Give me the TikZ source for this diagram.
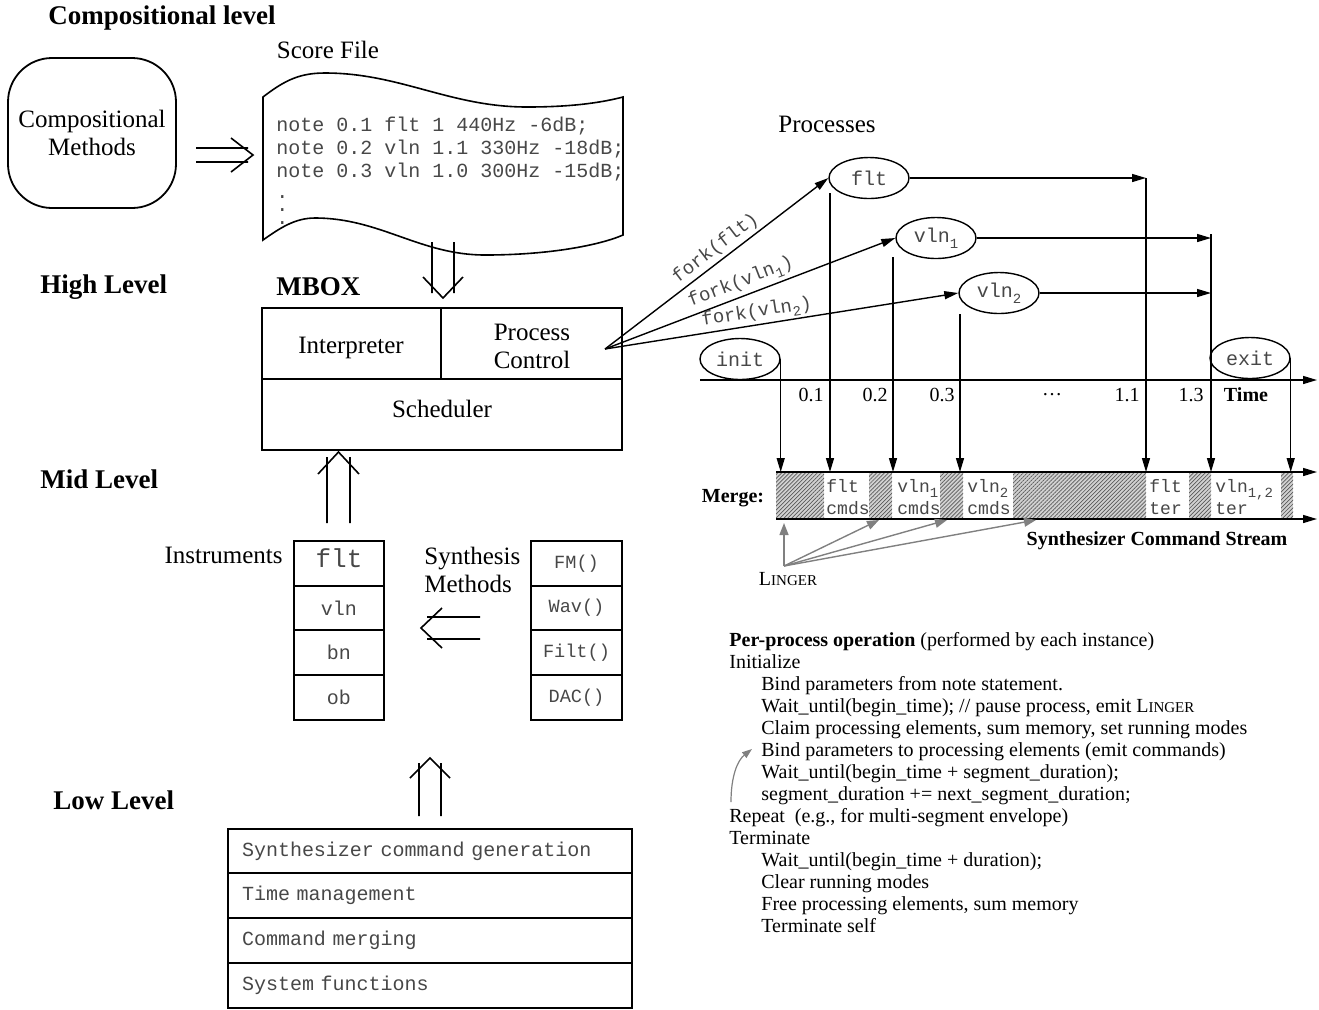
\documentclass[tikz,border=0pt]{standalone}
\usepackage{fontspec}
\setmainfont{Liberation Serif}
\setmonofont{Liberation Mono}
\usetikzlibrary{arrows.meta,shapes.geometric,patterns.meta}
\newcommand\mysub[1]{\raisebox{-0.55ex}{\fontsize{7}{7}\selectfont #1}}
\newcommand\lingersc{L{\fontsize{7.5}{9}\selectfont INGER}}
\begin{document}
\begin{tikzpicture}[x=0.5pt,y=-0.5pt,
  lbl/.style={font=\fontsize{12.5}{14}\selectfont, inner sep=0pt, align=center},
  hdr/.style={font=\fontsize{13.5}{15}\selectfont\bfseries, inner sep=0pt, anchor=west},
  sm/.style={font=\fontsize{10}{12}\selectfont, inner sep=0pt},
  smb/.style={font=\fontsize{10}{12}\selectfont\bfseries, inner sep=0pt},
  box/.style={draw, line width=0.9pt, inner sep=0pt},
  mono/.style={font=\fontsize{10}{11.5}\selectfont\ttfamily, text=black!72, inner sep=0pt},
  monos/.style={font=\fontsize{9.3}{11}\selectfont\ttfamily, text=black!72, inner sep=0pt},
  forkl/.style={font=\fontsize{9.5}{11}\selectfont\ttfamily, text=black!72, sloped, above, inner sep=1.5pt},
  mtxt/.style={font=\fontsize{9}{11}\selectfont\ttfamily, text=black!72, inner sep=0pt, anchor=north west, align=left},
  tri/.style={-{Triangle[length=7pt,width=4pt]}, line width=0.7pt},
  gtri/.style={-{Triangle[length=6pt,width=4.5pt]}, draw=black!50, line width=0.7pt},
  ell/.style={draw, ellipse, line width=0.7pt, inner sep=0pt, minimum width=40pt, minimum height=20.5pt, font=\fontsize{10}{11}\selectfont\ttfamily, text=black!72},
  dbl/.style={line width=0.8pt},
  hatchbox/.style={fill=black!18, postaction={pattern={Lines[angle=45,distance=1.4pt,line width=0.35pt]}, pattern color=black!65}},
]
\useasboundingbox (0,0) rectangle (1319,1009);

% level headers
\node[hdr] (hcomp) at (48,18) {Compositional level};
\node[hdr] (hhigh) at (40,287) {High Level};
\node[hdr] (hmbox) at (276,287) {MBOX};
\node[hdr] (hmid) at (40,479) {Mid Level};
\node[hdr] (hlow) at (53,800) {Low Level};

% compositional methods
\node[box, lbl, rounded corners=22pt, minimum width=84pt, minimum height=75pt] (cm) at (92,133) {Compositional\\Methods};

% score file
\node[lbl] (scorelbl) at (328,50) {Score File};
\draw[line width=0.8pt] (263,97) .. controls (285,80) and (300,73) .. (325,73)
  .. controls (400,73) and (450,107) .. (527,107)
  .. controls (570,107) and (600,103) .. (623,97) -- (623,235)
  .. controls (600,245) and (550,255) .. (485,255)
  .. controls (420,255) and (380,218) .. (315,218)
  .. controls (295,218) and (280,228) .. (263,240) -- cycle;
\node[mono, anchor=north west, align=left] (score) at (276,117) {note 0.1 flt 1 440Hz -6dB;\\note 0.2 vln 1.1 330Hz -18dB;\\note 0.3 vln 1.0 300Hz -15dB;};
\node[mono, anchor=north west, align=left, font=\fontsize{10}{6.5}\selectfont\ttfamily] (sdots) at (276,195) {.\\.\\.};

% double arrows
\draw[dbl] (196,148) -- (248,148) (196,162) -- (248,162) (231,138) -- (253,155) -- (231,172);
\draw[dbl] (432,242) -- (432,293) (454,242) -- (454,293) (423,277) -- (443,298) -- (463,277);
\draw[dbl] (327,523) -- (327,457) (350,523) -- (350,457) (318,474) -- (338.5,452) -- (359,474);
\draw[dbl] (480,617) -- (427,617) (480,639) -- (427,639) (442,608) -- (421,628) -- (442,648);
\draw[dbl] (419,816) -- (419,763) (441,816) -- (441,763) (410,778) -- (430,758) -- (450,778);

% MBOX
\node[box, minimum width=89.5pt, minimum height=35.5pt] (interp) at (351.5,343.5) {};
\node[box, minimum width=90.5pt, minimum height=35.5pt] (pctrl) at (531.5,343.5) {};
\node[box, minimum width=180pt, minimum height=35.5pt] (sched) at (442,414.5) {};
\node[lbl] (interpt) at (351,348) {Interpreter};
\node[lbl] (pctrlt) at (532,346) {Process\\Control};
\node[lbl] (schedt) at (442,409) {Scheduler};

% instruments
\node[lbl, anchor=east] (instl) at (283,555) {Instruments};
\node[box, minimum width=45pt, minimum height=22.5pt] (iflt) at (339,563.5) {};
\node[mono, font=\fontsize{13}{14}\selectfont\ttfamily] (ifltt) at (339,558) {flt};
\node[box, mono, minimum width=45pt, minimum height=22pt] (ivln) at (339,608) {vln};
\node[box, mono, minimum width=45pt, minimum height=22.5pt] (ibn) at (339,652.5) {bn};
\node[box, mono, minimum width=45pt, minimum height=22.5pt] (iob) at (339,697.5) {ob};

% synthesis methods
\node[lbl, align=left, anchor=west] (synl) at (424,570) {Synthesis\\Methods};
\node[box, monos, minimum width=45.5pt, minimum height=22.5pt] (sfm) at (576.5,563.5) {FM()};
\node[box, monos, minimum width=45.5pt, minimum height=22pt] (swav) at (576.5,608) {Wav()};
\node[box, monos, minimum width=45.5pt, minimum height=22.5pt] (sfilt) at (576.5,652.5) {Filt()};
\node[box, monos, minimum width=45.5pt, minimum height=22.5pt] (sdac) at (576.5,697.5) {DAC()};

% low level
\node[box, mono, text width=188pt, inner xsep=7pt, align=left, minimum height=22pt] (l1) at (430,851) {Synthesizer command generation};
\node[box, mono, text width=188pt, inner xsep=7pt, align=left, minimum height=22.5pt] (l2) at (430,895.5) {Time management};
\node[box, mono, text width=188pt, inner xsep=7pt, align=left, minimum height=22.5pt] (l3) at (430,940.5) {Command merging};
\node[box, mono, text width=188pt, inner xsep=7pt, align=left, minimum height=22.5pt] (l4) at (430,985.5) {System functions};

% processes
\node[lbl] (procl) at (827,124) {Processes};
\node[ell] (flt) at (869,178) {flt};
\node[ell] (vln1) at (936,238) {vln\mysub{1}};
\node[ell] (vln2) at (999,293) {vln\mysub{2}};
\node[ell] (init) at (740,359) {init};
\node[ell] (exit) at (1250,358) {exit};

\coordinate (forko) at (605,349);
\draw[tri] (forko) -- node[forkl, pos=0.53] (lf1) {fork(flt)} (flt.west);
\draw[tri] (forko) -- node[forkl, pos=0.485] (lf2) {fork(vln\mysub{1})} (vln1.west);
\draw[tri] (forko) -- node[forkl, pos=0.435, inner sep=0.8pt] (lf3) {fork(vln\mysub{2})} (vln2.west);

% time axis
\coordinate (tax0) at (700,380);
\coordinate (tax1) at (1317,380);
\draw[tri] (tax0) -- (tax1);
\node[sm, anchor=east] (t01) at (824,395) {0.1};
\node[sm, anchor=east] (t02) at (888,395) {0.2};
\node[sm, anchor=east] (t03) at (955,395) {0.3};
\node[sm] (tdots) at (1052,395) {\dots};
\node[sm, anchor=east] (t11) at (1140,395) {1.1};
\node[sm, anchor=east] (t13) at (1204,395) {1.3};
\node[smb] (ttime) at (1246,395) {Time};

% merge stream
\path[hatchbox] (776,473) rectangle (824,518);
\path[hatchbox] (869,473) rectangle (892,518);
\path[hatchbox] (940,473) rectangle (963,518);
\path[hatchbox] (1013,473) rectangle (1146,518);
\path[hatchbox] (1189,473) rectangle (1211,518);
\path[hatchbox] (1281,473) rectangle (1293,518);
\coordinate (mt0) at (776,472);
\coordinate (mt1) at (1317,472);
\coordinate (mb0) at (776,519);
\coordinate (mb1) at (1317,519);
\draw[tri] (mt0) -- (mt1);
\draw[tri] (mb0) -- (mb1);
\node[mtxt] (m1) at (826,479) {flt\\cmds};
\node[mtxt] (m2) at (897,479) {vln\mysub{1}\\cmds};
\node[mtxt] (m3) at (967,479) {vln\mysub{2}\\cmds};
\node[mtxt] (m4) at (1149,479) {flt\\ter};
\node[mtxt] (m5) at (1215,479) {vln\mysub{1,2}\\ter};
\node[smb] (mergel) at (733,498) {Merge:};
\node[smb] (scs) at (1157,541) {Synthesizer Command Stream};

% vertical arrows into merge
\draw[tri] (init.east) -- (init.east |- mt0);
\coordinate (fltd) at (830,193);
\draw[tri] (fltd) -- (fltd |- mt0);
\coordinate (vln1d) at (893,257);
\draw[tri] (vln1d) -- (vln1d |- mt0);
\coordinate (vln2d) at (960,314);
\draw[tri] (vln2d) -- (vln2d |- mt0);
\coordinate (c11) at (1146,178);
\draw[tri] (flt.east) -- (c11);
\draw[tri] (c11) -- (c11 |- mt0);
\coordinate (c13) at (1211,234);
\draw[tri] (vln1.east) -- (vln1.east -| c13);
\draw[tri] (vln2.east) -- (vln2.east -| c13);
\draw[tri] (c13) -- (c13 |- mt0);
\draw[tri] (exit.east) -- (exit.east |- mt0);

% linger
\node[sm] (linger) at (788,579) {\lingersc};
\coordinate (lgo) at (784,566);
\coordinate (lg1) at (784,523);
\coordinate (lg2) at (879,520);
\coordinate (lg3) at (947,520);
\coordinate (lg4) at (1036,520);
\draw[gtri] (lgo) -- (lg1);
\draw[gtri] (lgo) -- (lg2);
\draw[gtri] (lgo) -- (lg3);
\draw[gtri] (lgo) -- (lg4);

% per-process operation
\node[anchor=north west, inner sep=0pt, align=left, font=\fontsize{10}{11}\selectfont] (perproc) at (729,632) {%
\textbf{Per-process operation} (performed by each instance)\\
Initialize\\
\hspace*{16pt}Bind parameters from note statement.\\
\hspace*{16pt}Wait\_until(begin\_time); // pause process, emit \lingersc\\
\hspace*{16pt}Claim processing elements, sum memory, set running modes\\
\hspace*{16pt}Bind parameters to processing elements (emit commands)\\
\hspace*{16pt}Wait\_until(begin\_time + segment\_duration);\\
\hspace*{16pt}segment\_duration += next\_segment\_duration;\\
Repeat\ \ (e.g., for multi-segment envelope)\\
Terminate\\
\hspace*{16pt}Wait\_until(begin\_time + duration);\\
\hspace*{16pt}Clear running modes\\
\hspace*{16pt}Free processing elements, sum memory\\
\hspace*{16pt}Terminate self};
\coordinate (rp0) at (731,802);
\coordinate (rp1) at (752,749);
\draw[-{Triangle[length=5pt,width=3.5pt]}, draw=black!50, line width=0.6pt] (rp0) .. controls (731,775) and (738,760) .. (rp1);
\end{tikzpicture}
\end{document}
